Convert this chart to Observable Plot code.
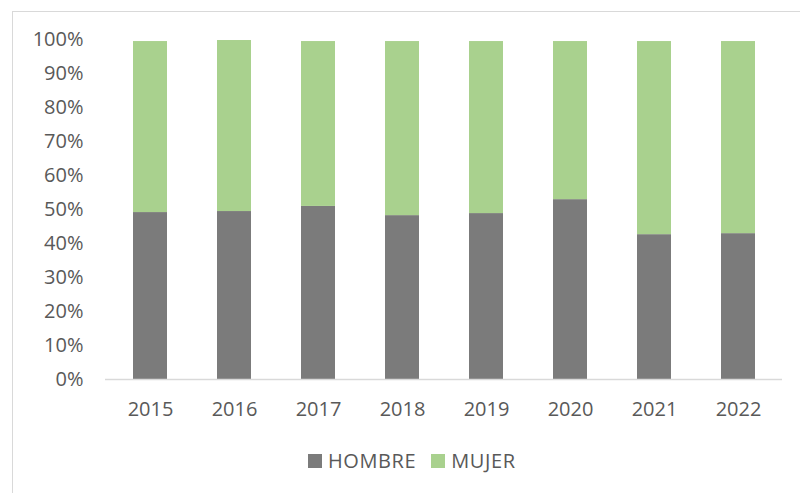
<!DOCTYPE html>
<html>
<head>
<meta charset="utf-8">
<script src="https://cdn.jsdelivr.net/npm/d3@7"></script>
<script src="https://cdn.jsdelivr.net/npm/@observablehq/plot@0.6"></script>
<style>
  html, body { margin: 0; padding: 0; background: #fff; }
  #wrap { position: relative; width: 800px; height: 493px; overflow: hidden; font-family: "Open Sans", sans-serif; }
  #border { position: absolute; left: 12px; top: 11px; right: -5px; bottom: -5px; border-left: 1.5px solid #d9d9d9; border-top: 1.5px solid #d9d9d9; }
  #chart { position: absolute; left: 0; top: 0; }
  #legend { position: absolute; left: 308px; top: 444px; }
  .lg-swatches { font-family: "Open Sans", sans-serif !important; font-size: 20px !important; letter-spacing: 0.6px; color: #595959 !important; margin: 0 !important; }
  .lg-swatch { margin-right: 15px !important; }
  .lg-swatch > svg { margin-right: 6px !important; }
</style>
</head>
<body>
<div id="wrap">
  <div id="border"></div>
  <div id="chart"></div>
  <div id="legend"></div>
</div>
<script>
const years = ["2015", "2016", "2017", "2018", "2019", "2020", "2021", "2022"];
const hombre = [49.1, 49.4, 50.9, 48.2, 48.8, 52.9, 42.6, 42.9];
const mujer = [50.3, 50.3, 48.5, 51.2, 50.6, 46.5, 56.8, 56.5];
const series = ["HOMBRE", "MUJER"];
const colors = ["#7b7b7b", "#a9d18e"];
const yTicks = [0, 10, 20, 30, 40, 50, 60, 70, 80, 90, 100];

const data = [];
years.forEach((y, i) => {
  data.push({year: y, sexo: "HOMBRE", value: hombre[i]});
  data.push({year: y, sexo: "MUJER", value: mujer[i]});
});

const plot = Plot.plot({
  width: 800,
  height: 430,
  marginLeft: 105,
  marginRight: 18,
  marginTop: 39,
  marginBottom: 51,
  style: { fontFamily: "Open Sans, sans-serif", fontSize: "20px", color: "#595959", background: "transparent" },
  x: { domain: years, paddingInner: 0.6, paddingOuter: 0.3, label: null, tickSize: 0, tickPadding: 22 },
  y: { domain: [0, 100], ticks: yTicks, tickFormat: d => d + "%", label: null, tickSize: 0, tickPadding: 22 },
  color: { domain: series, range: colors },
  marks: [
    Plot.barY(data, { x: "year", y: "value", fill: "sexo", order: series }),
    Plot.ruleY([0], { stroke: "#d9d9d9", strokeWidth: 1.5 })
  ]
});
document.getElementById("chart").appendChild(plot);

const legend = Plot.legend({
  color: { domain: series, range: colors },
  legend: "swatches",
  swatchSize: 14,
  className: "lg"
});
document.getElementById("legend").appendChild(legend);
</script>
</body>
</html>
